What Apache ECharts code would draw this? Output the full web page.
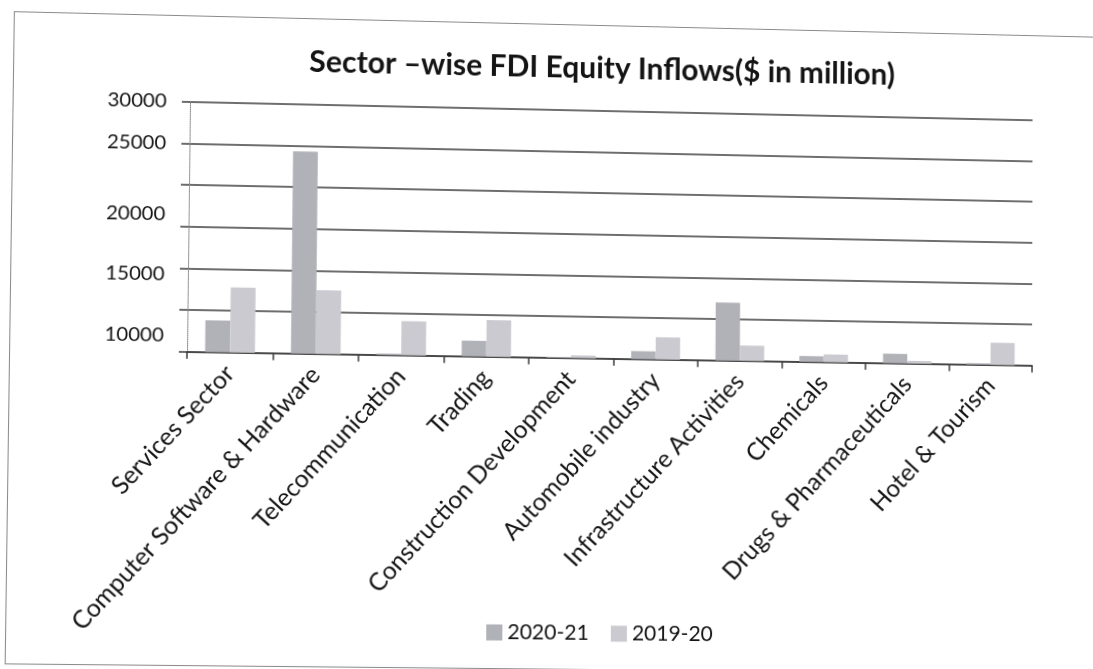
<!DOCTYPE html>
<html>
<head>
<meta charset="utf-8">
<script src="https://cdn.jsdelivr.net/npm/echarts@6/dist/echarts.min.js"></script>
<style>
  html, body { margin: 0; padding: 0; background: #fff; overflow: hidden; width: 1093px; height: 669px; }
  #sheet { position: absolute; left: 0; top: 0; width: 1093px; height: 669px; transform-origin: 0 0; }
  #frame { position: absolute; left: 14px; top: 15px; width: 1140px; height: 649px;
           border: 1.5px solid #8a8a8a; box-sizing: border-box; }
  #chart { position: absolute; left: 0; top: 0; width: 1093px; height: 669px; }
</style>
</head>
<body>
<div id="sheet"><div id="frame"></div><div id="chart"></div></div>
<script>
// Sector-wise FDI equity inflows, $ million
const sectors = [
  'Services Sector', 'Computer Software & Hardware', 'Telecommunication', 'Trading',
  'Construction Development', 'Automobile industry', 'Infrastructure Activities',
  'Chemicals', 'Drugs & Pharmaceuticals', 'Hotel & Tourism'
];
const fdi2020_21 = [3800, 24300, 150, 1880, 100, 960, 7000, 700, 1150, 170];
const fdi2019_20 = [7800, 7650, 4100, 4400, 330, 2680, 1850, 940, 330, 2700];
const seriesNames = ['2020-21', '2019-20'];
const yTickLabels = ['30000', '25000', '20000', '15000', '10000'];

// The printed page sits slightly skewed on the sheet; map the flat layout
// onto that quadrilateral with a projective transform.
function homography(src, dst) {
  const A = [], b = [];
  for (let i = 0; i < 4; i++) {
    const [x, y] = src[i], [u, v] = dst[i];
    A.push([x, y, 1, 0, 0, 0, -u * x, -u * y]); b.push(u);
    A.push([0, 0, 0, x, y, 1, -v * x, -v * y]); b.push(v);
  }
  const n = 8;
  for (let c = 0; c < n; c++) {
    let p = c;
    for (let r = c + 1; r < n; r++) if (Math.abs(A[r][c]) > Math.abs(A[p][c])) p = r;
    [A[c], A[p]] = [A[p], A[c]]; [b[c], b[p]] = [b[p], b[c]];
    for (let r = 0; r < n; r++) {
      if (r === c) continue;
      const f = A[r][c] / A[c][c];
      for (let k = c; k < n; k++) A[r][k] -= f * A[c][k];
      b[r] -= f * b[c];
    }
  }
  const h = b.map((val, i) => val / A[i][i]);
  return `matrix3d(${h[0]},${h[3]},0,${h[6]},${h[1]},${h[4]},0,${h[7]},0,0,1,0,${h[2]},${h[5]},0,1)`;
}
document.getElementById('sheet').style.transform = homography(
  [[188, 101.7], [1033, 101.7], [188, 351.7], [1033, 351.7]],
  [[190, 101.7], [1032.5, 120], [187, 351.7], [1032, 365.5]]
);

const FONT = 'Lato';
const yLabelAt = [30000, 25000, 16450, 9250, 1940];

const chart = echarts.init(document.getElementById('chart'), null, { renderer: 'canvas' });
chart.setOption({
  backgroundColor: 'transparent',
  animation: false,
  title: {
    text: 'Sector \u2013wise FDI Equity Inflows($ in million)',
    left: 594, top: 39, textAlign: 'center',
    textStyle: { fontFamily: FONT, fontWeight: 'bold', fontSize: 30, color: '#141414' }
  },
  legend: {
    data: seriesNames,
    left: 481, top: 612,
    icon: 'rect', itemWidth: 16, itemHeight: 16, itemGap: 22,
    textStyle: { fontFamily: FONT, fontSize: 21, color: '#141414' }
  },
  grid: { left: 188, right: 60, top: 101.7, height: 250, containLabel: false },
  xAxis: {
    type: 'category',
    data: sectors,
    boundaryGap: true,
    axisLine: { lineStyle: { color: '#3e3e3e', width: 1.6 } },
    axisTick: { show: true, length: 7, lineStyle: { color: '#3e3e3e', width: 1.5 } },
    axisLabel: { rotate: 48, interval: 0, margin: 17, fontFamily: FONT, fontSize: 24.5, color: '#141414' }
  },
  yAxis: {
    type: 'value', min: 0, max: 30000, interval: 5000,
    axisLine: { show: true, lineStyle: { color: '#8a8a8a', width: 1, type: 'dotted' } },
    axisTick: { show: true, length: 8, lineStyle: { color: '#3e3e3e', width: 1.5 } },
    splitLine: { show: true, lineStyle: { color: '#3e3e3e', width: 1.6 } },
    axisLabel: {
      customValues: yLabelAt,
      formatter: v => yTickLabels[yLabelAt.indexOf(v)] ?? '',
      margin: 23, fontFamily: FONT, fontSize: 20, color: '#141414'
    }
  },
  series: [
    {
      name: seriesNames[0], type: 'bar', data: fdi2020_21,
      barGap: '0%', barCategoryGap: '42%',
      itemStyle: { color: '#b1b1b8' }
    },
    {
      name: seriesNames[1], type: 'bar', data: fdi2019_20,
      barGap: '0%', barCategoryGap: '42%',
      itemStyle: { color: '#cacad0' }
    }
  ]
});
</script>
</body>
</html>
